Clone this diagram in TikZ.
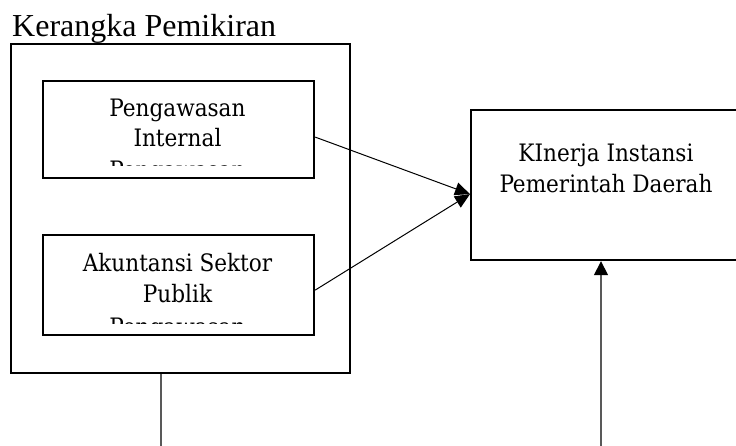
\documentclass[tikz,border=0pt]{standalone}
\usepackage{fontspec}
\setmainfont{Liberation Serif}
\newfontfamily\isifont{DejaVu Serif Condensed}
\usetikzlibrary{arrows.meta}

\begin{document}
\begin{tikzpicture}
[
    x=1pt, y=-1pt,
    kotak/.style={draw, line width=2.2pt, inner sep=0pt, anchor=north west},
    isi/.style={font=\isifont\fontsize{24}{31}\selectfont, inner sep=0pt, anchor=base},
    panah/.style={line width=1pt, -{Triangle[length=15pt, width=13pt]}},
    garis/.style={draw=black!65, line width=1.5pt},
]
\useasboundingbox (0,0) rectangle (736,446);
\node [anchor=base west, inner sep=0pt, font=\fontsize{32}{38}\selectfont] (judul) at (12,37) {Kerangka Pemikiran};
\node [kotak, minimum width=339pt, minimum height=329pt] (kerangka) at (10,43) {};
\node [kotak, minimum width=271pt, minimum height=97pt] (pengawasan) at (42,80) {};
\node [kotak, minimum width=271pt, minimum height=100pt] (akuntansi) at (42,234) {};
\node [kotak, minimum width=275pt, minimum height=150pt] (kinerja) at (470,109) {};
% isi kotak kiri, baris ketiga terpotong
\begin{scope}
\clip (43,81) rectangle (312,166);
\node [isi] (p1) at (177.5,117) {Pengawasan};
\node [isi] (p2) at (177.5,147) {Internal};
\node [isi] (p3) at (177.5,179) {Pengawasan};
\end{scope}
\begin{scope}
\clip (43,235) rectangle (312,323);
\node [isi] (a1) at (177.5,272) {Akuntansi Sektor};
\node [isi] (a2) at (177.5,302) {Publik};
\node [isi] (a3) at (177.5,335) {Pengawasan};
\end{scope}
\node [isi] (k1) at (606,162) {KInerja Instansi};
\node [isi] (k2) at (606,193) {Pemerintah Daerah};
% panah
\draw [panah] ([yshift=-7.5pt]pengawasan.east) -- ([yshift=-9pt]kinerja.west);
\draw [panah] ([yshift=-5pt]akuntansi.east) -- ([yshift=-9pt]kinerja.west);
\coordinate (ujungkiri) at (161,446);
\coordinate (ujungkanan) at (601,446);
\draw [garis] (ujungkiri |- kerangka.south) -- (ujungkiri);
\draw [garis, -{Triangle[length=14pt, width=14pt, black]}] (ujungkanan) -- (ujungkanan |- kinerja.south);
\end{tikzpicture}
\end{document}
